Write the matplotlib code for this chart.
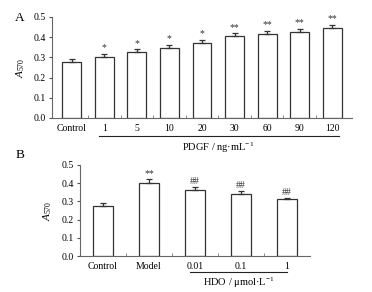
import matplotlib
matplotlib.use('Agg')
import matplotlib.pyplot as plt
import numpy as np

plt.rcParams['font.family'] = ['Liberation Serif', 'DejaVu Serif']
plt.rcParams['mathtext.fontset'] = 'custom'
plt.rcParams['mathtext.it'] = 'Liberation Serif:italic'
plt.rcParams['mathtext.rm'] = 'Liberation Serif'

# panel A data
a_labels = ['Control', '1', '5', '10', '20', '30', '60', '90', '120']
a_values = [0.275, 0.302, 0.327, 0.345, 0.370, 0.404, 0.414, 0.425, 0.444]
a_errors = [0.015, 0.017, 0.012, 0.017, 0.017, 0.015, 0.018, 0.016, 0.018]
a_marks = ['', '*', '*', '*', '*', '**', '**', '**', '**']

# panel B data
b_labels = ['Control', 'Model', '0.01', '0.1', '1']
b_values = [0.275, 0.402, 0.362, 0.340, 0.311]
b_errors = [0.015, 0.020, 0.015, 0.015, 0.008]
b_marks = ['', '**', '##', '##', '##']

yticks = [0.0, 0.1, 0.2, 0.3, 0.4, 0.5]
edge = '#333333'
fs = 7

fig = plt.figure(figsize=(3.72, 2.92), dpi=100)
axA = fig.add_axes([0.140, 0.596, 0.806, 0.346])
axB = fig.add_axes([0.215, 0.123, 0.618, 0.312])


def draw(ax, labels, values, errors, marks, width, xlim, lbl_x):
    x = np.arange(len(labels))
    ax.bar(x, values, width=width, color='white', edgecolor=edge, linewidth=0.9, zorder=2)
    ax.errorbar(x, values, yerr=[np.zeros(len(x)), errors], fmt='none',
                ecolor=edge, elinewidth=0.9, capsize=2.2, capthick=0.9, zorder=3)
    for xi, v, e, m in zip(x, values, errors, marks):
        if m:
            ax.text(xi, v + e + 0.008, m, ha='center', va='bottom', fontsize=7, color='#333333')
    ax.set_xlim(*xlim)
    ax.set_ylim(0, 0.5)
    ax.set_yticks(yticks)
    ax.set_yticklabels(['%.1f' % t for t in yticks], fontsize=fs)
    ax.set_xticks(x)
    ax.set_xticklabels(labels, fontsize=fs)
    ax.set_xticks(x[:-1] + 0.5, minor=True)
    ax.tick_params(axis='x', which='major', length=0, pad=4)
    ax.tick_params(axis='x', which='minor', length=2, direction='in', color='#777777')
    ax.tick_params(axis='y', length=2.5, direction='out', color='#555555', pad=2)
    for s in ['top', 'right']:
        ax.spines[s].set_visible(False)
    for s in ['left', 'bottom']:
        ax.spines[s].set_color('#666666')
        ax.spines[s].set_linewidth(0.8)
    ax.set_ylabel('$A_{570}$', fontsize=8)
    ax.yaxis.set_label_coords(lbl_x, 0.5)


draw(axA, a_labels, a_values, a_errors, a_marks, 0.58, (-0.6, 8.6), -0.083)
draw(axB, b_labels, b_values, b_errors, b_marks, 0.42, (-0.5, 4.5), -0.113)

# group underline + axis titles
axA.plot([0.85, 8.2], [-0.178, -0.178], color='#222222', lw=0.8,
         transform=axA.get_xaxis_transform(), clip_on=False)
axA.text(4.5, -0.30, 'PDGF / ng·mL$^{-1}$', ha='center', va='center', fontsize=7.5,
         transform=axA.get_xaxis_transform())
axB.plot([1.9, 4.0], [-0.176, -0.176], color='#222222', lw=0.8,
         transform=axB.get_xaxis_transform(), clip_on=False)
axB.text(2.95, -0.29, 'HDO / μmol·L$^{-1}$', ha='center', va='center', fontsize=7.5,
         transform=axB.get_xaxis_transform())

fig.text(20 / 372, 1 - 18 / 292, 'A', fontsize=9.5, ha='center', va='center')
fig.text(20 / 372, 1 - 155 / 292, 'B', fontsize=9.5, ha='center', va='center')

fig.savefig('out.png', dpi=100)
